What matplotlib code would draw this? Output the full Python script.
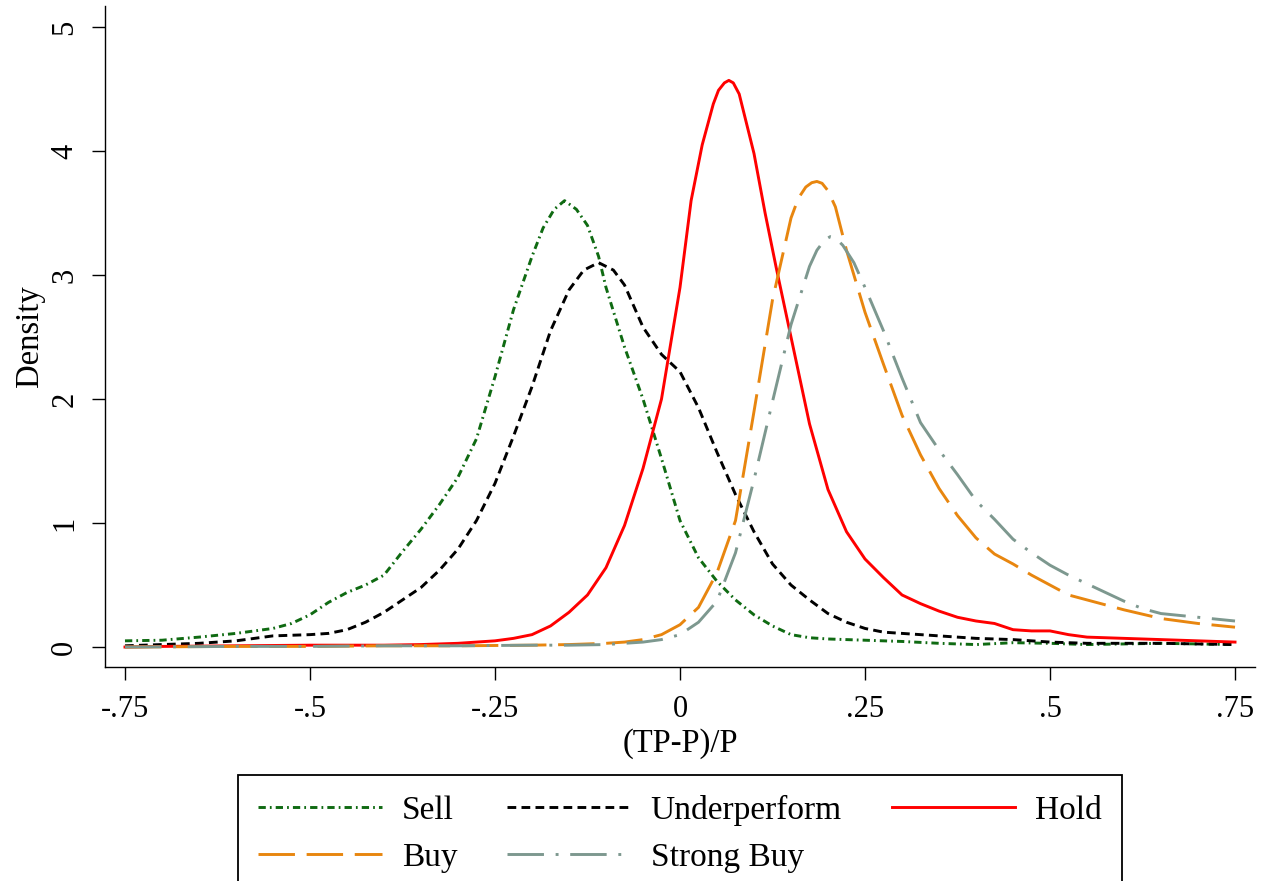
import matplotlib
matplotlib.use("Agg")
import matplotlib.pyplot as plt

plt.rcParams['font.family'] = ['Liberation Serif', 'DejaVu Serif']

# kernel density curves, (TP-P)/P vs density
sell_x = [-0.75, -0.7, -0.65, -0.6, -0.55, -0.525, -0.5, -0.475, -0.45, -0.425, -0.4, -0.375,
          -0.35, -0.325, -0.3, -0.275, -0.25, -0.225, -0.2, -0.185, -0.17, -0.156, -0.14, -0.125,
          -0.11, -0.1, -0.075, -0.05, -0.025, 0, 0.025, 0.05, 0.075, 0.1, 0.125, 0.15, 0.175, 0.2,
          0.25, 0.3, 0.35, 0.4, 0.45, 0.5, 0.55, 0.6, 0.65, 0.7, 0.75]
sell_y = [0.05, 0.055, 0.08, 0.11, 0.15, 0.19, 0.26, 0.36, 0.44, 0.5, 0.58, 0.77,
          0.95, 1.15, 1.37, 1.68, 2.18, 2.72, 3.15, 3.38, 3.53, 3.60, 3.53, 3.40,
          3.15, 2.9, 2.42, 2.0, 1.52, 1.02, 0.72, 0.53, 0.38, 0.26, 0.17, 0.1, 0.075, 0.065,
          0.055, 0.045, 0.03, 0.02, 0.035, 0.03, 0.02, 0.025, 0.03, 0.025, 0.02]

under_x = [-0.75, -0.7, -0.65, -0.6, -0.55, -0.5, -0.475, -0.45, -0.425, -0.4, -0.375, -0.35,
           -0.325, -0.3, -0.275, -0.25, -0.225, -0.2, -0.175, -0.15, -0.13, -0.11, -0.09, -0.075,
           -0.05, -0.025, 0, 0.025, 0.05, 0.075, 0.1, 0.125, 0.15, 0.175, 0.2, 0.225, 0.25, 0.275,
           0.3, 0.35, 0.4, 0.45, 0.5, 0.55, 0.6, 0.65, 0.7, 0.75]
under_y = [0.01, 0.02, 0.03, 0.05, 0.09, 0.1, 0.11, 0.14, 0.2, 0.28, 0.38, 0.48,
           0.62, 0.79, 1.02, 1.32, 1.7, 2.1, 2.55, 2.88, 3.04, 3.1, 3.04, 2.92,
           2.58, 2.36, 2.22, 1.93, 1.57, 1.23, 0.93, 0.67, 0.5, 0.38, 0.27, 0.2, 0.15, 0.12,
           0.11, 0.09, 0.07, 0.06, 0.04, 0.03, 0.03, 0.03, 0.025, 0.02]

hold_x = [-0.75, -0.7, -0.6, -0.5, -0.4, -0.35, -0.3, -0.25, -0.225, -0.2, -0.175, -0.15,
          -0.125, -0.1, -0.075, -0.05, -0.025, 0, 0.015, 0.03, 0.045, 0.052, 0.06, 0.066,
          0.072, 0.08, 0.09, 0.1, 0.115, 0.13, 0.15, 0.175, 0.2, 0.225, 0.25, 0.275, 0.3, 0.325,
          0.35, 0.375, 0.4, 0.425, 0.45, 0.475, 0.5, 0.525, 0.55, 0.6, 0.65, 0.7, 0.75]
hold_y = [0.0, 0.005, 0.01, 0.015, 0.015, 0.02, 0.03, 0.05, 0.07, 0.1, 0.17, 0.28,
          0.42, 0.64, 0.98, 1.44, 2.0, 2.9, 3.6, 4.05, 4.38, 4.49, 4.55, 4.57,
          4.55, 4.46, 4.22, 3.98, 3.5, 3.06, 2.5, 1.8, 1.27, 0.93, 0.71, 0.56, 0.42, 0.35,
          0.29, 0.24, 0.21, 0.19, 0.14, 0.13, 0.13, 0.1, 0.08, 0.07, 0.06, 0.05, 0.04]

buy_x = [-0.75, -0.6, -0.5, -0.4, -0.3, -0.2, -0.15, -0.1, -0.075, -0.05, -0.025, 0, 0.025,
         0.05, 0.075, 0.1, 0.125, 0.15, 0.16, 0.17, 0.178, 0.185, 0.192, 0.2, 0.21, 0.225, 0.25,
         0.275, 0.3, 0.325, 0.35, 0.375, 0.4, 0.425, 0.45, 0.475, 0.5, 0.525, 0.55, 0.6, 0.65,
         0.7, 0.75]
buy_y = [0.0, 0.005, 0.005, 0.01, 0.01, 0.015, 0.02, 0.03, 0.04, 0.06, 0.1, 0.18, 0.32,
         0.6, 1.02, 1.9, 2.8, 3.46, 3.62, 3.71, 3.745, 3.755, 3.74, 3.68, 3.55, 3.2, 2.7,
         2.28, 1.87, 1.55, 1.28, 1.06, 0.88, 0.75, 0.67, 0.58, 0.5, 0.42, 0.38, 0.3, 0.23,
         0.19, 0.16]

strong_x = [-0.75, -0.6, -0.5, -0.4, -0.3, -0.2, -0.15, -0.1, -0.05, -0.025, 0, 0.025, 0.05,
            0.075, 0.1, 0.125, 0.15, 0.175, 0.185, 0.195, 0.203, 0.21, 0.22, 0.235, 0.25, 0.275,
            0.3, 0.325, 0.35, 0.375, 0.4, 0.425, 0.45, 0.475, 0.5, 0.525, 0.55, 0.575, 0.6,
            0.625, 0.65, 0.7, 0.75]
strong_y = [0.0, 0.005, 0.005, 0.01, 0.01, 0.015, 0.015, 0.02, 0.04, 0.06, 0.1, 0.2, 0.37,
            0.76, 1.35, 1.98, 2.6, 3.07, 3.2, 3.28, 3.31, 3.3, 3.24, 3.1, 2.9, 2.55,
            2.17, 1.81, 1.59, 1.39, 1.18, 1.03, 0.87, 0.76, 0.66, 0.58, 0.51, 0.44, 0.37,
            0.31, 0.27, 0.24, 0.21]

x_ticks = [-0.75, -0.5, -0.25, 0, 0.25, 0.5, 0.75]
x_ticklabels = ['-.75', '-.5', '-.25', '0', '.25', '.5', '.75']
y_ticks = [0, 1, 2, 3, 4, 5]

fig = plt.figure(figsize=(12.65, 8.81), dpi=100)
ax = fig.add_axes([105 / 1265, 1 - 667 / 881, 1150 / 1265, 661 / 881])

lw = 2.1
l_sell, = ax.plot(sell_x, sell_y, color='#0f6a12', lw=lw, ls=(0, (2.5, 1.4, 0.6, 1.4)), label='Sell')
l_under, = ax.plot(under_x, under_y, color='black', lw=lw, ls=(0, (3.0, 1.8)), label='Underperform')
l_hold, = ax.plot(hold_x, hold_y, color='#ff0000', lw=lw, ls='-', label='Hold')
l_buy, = ax.plot(buy_x, buy_y, color='#e8860f', lw=lw, ls=(0, (12.5, 4)), label='Buy')
l_strong, = ax.plot(strong_x, strong_y, color='#7d988f', lw=lw, ls=(0, (12.5, 4, 1, 4)), label='Strong Buy')

ax.set_xlim(-0.777, 0.777)
ax.set_ylim(-0.161, 5.170)
ax.set_xticks(x_ticks)
ax.set_xticklabels(x_ticklabels)
ax.set_yticks(y_ticks)

for side in ['top', 'right']:
    ax.spines[side].set_visible(False)
for side in ['left', 'bottom']:
    ax.spines[side].set_linewidth(1.0)

ax.tick_params(direction='out', length=9.5, width=1.0, labelsize=22, colors='black')
ax.tick_params(axis='x', pad=11)
ax.tick_params(axis='y', pad=9, labelrotation=90)
for lab in ax.get_yticklabels():
    lab.set_va('center')

ax.set_xlabel('(TP-P)/P', fontsize=23.5, labelpad=3)
ax.set_ylabel('Density', fontsize=23.5, labelpad=4)

# legend is filled column by column, so order gives rows Sell/Underperform/Hold, Buy/Strong Buy
handles = [l_sell, l_buy, l_under, l_strong, l_hold]
leg = fig.legend(handles, [h.get_label() for h in handles], loc='upper center',
                 bbox_to_anchor=(680 / 1265, 1 - 775 / 881), ncol=3, fontsize=24,
                 frameon=True, fancybox=False, edgecolor='black', framealpha=1,
                 handlelength=3.7, handletextpad=0.6, columnspacing=1.5,
                 labelspacing=0.48, borderpad=0.6, borderaxespad=0)
leg.get_frame().set_linewidth(1.3)

fig.savefig('out.png', dpi=100)
